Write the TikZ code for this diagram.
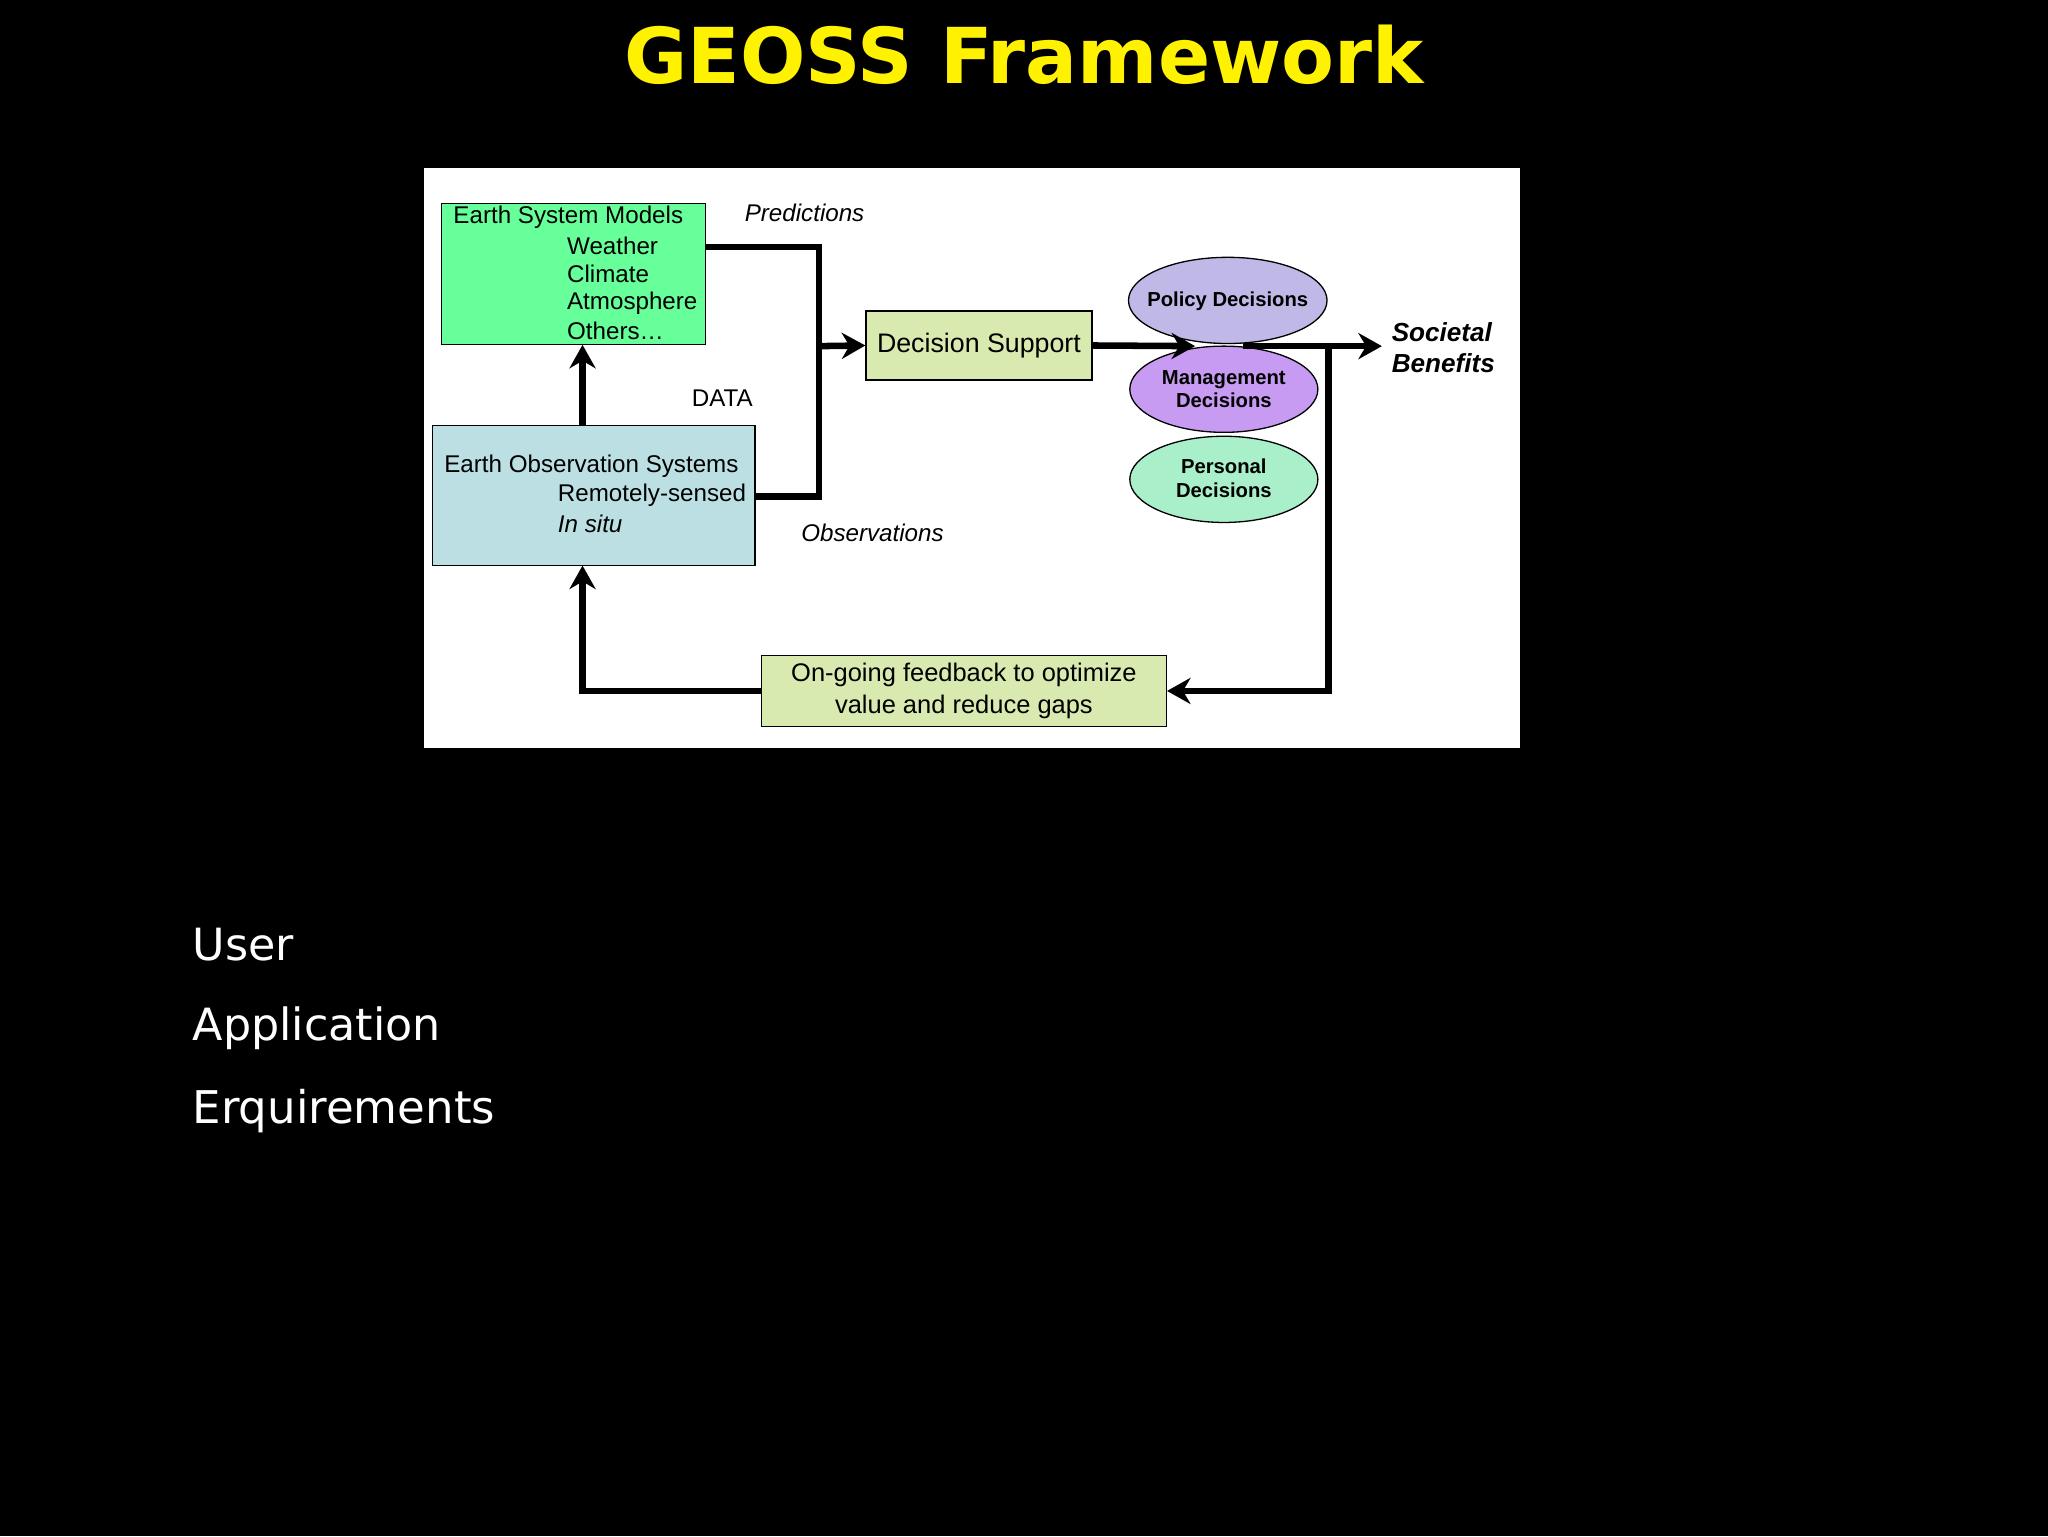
\documentclass[tikz,border=0pt]{standalone}
\usepackage{fontspec}
\setmainfont{Liberation Sans}
\newfontfamily\verd{DejaVu Sans}
\usetikzlibrary{arrows.meta}
\begin{document}
\begin{tikzpicture}[x=1pt,y=-1pt,
  box/.style={draw=black,line width=1pt,inner sep=0pt},
  lbl/.style={font=\fontsize{18.5}{20}\selectfont,anchor=west,inner sep=0pt},
  flow/.style={line width=5pt},
  arr/.style={line width=5pt,-{Stealth[length=18pt,width=20pt]}},
  etxt/.style={font=\bfseries\fontsize{15.5}{18}\selectfont,align=center}]
\fill[black] (0,0) rectangle (1568,1176);
\useasboundingbox (0,0) rectangle (1568,1176);
\node[text=yellow,font=\verd\bfseries\fontsize{59}{70}\selectfont] (title) at (784,42) {GEOSS Framework};
\fill[white] (325,129) rectangle (1164,573);
% boxes
\draw[box,fill={rgb,255:red,102;green,255;blue,153}] (338,156) rectangle (540,264);
\node[lbl] at (347,166) {Earth System Models};
\node[lbl] at (434,188) {Weather};
\node[lbl] at (434,210) {Climate};
\node[lbl] at (434,232) {Atmosphere};
\node[lbl] at (434,253) {Others\dots};
\draw[box,fill={rgb,255:red,187;green,223;blue,227}] (331,326) rectangle (578,433);
\node[lbl] at (340,357) {Earth Observation Systems};
\node[lbl] at (427,379) {Remotely-sensed};
\node[lbl,font=\itshape\fontsize{18.5}{20}\selectfont] at (427,401) {In situ};
\node[box,fill={rgb,255:red,217;green,234;blue,176},minimum width=173pt,minimum height=53pt,font=\fontsize{20.5}{22}\selectfont] (ds) at (749.5,264.5) {Decision Support};
\node[box,fill={rgb,255:red,217;green,234;blue,176},minimum width=310pt,minimum height=54pt,align=center,font=\fontsize{19.5}{24}\selectfont] (fb) at (738,529) {On-going feedback to optimize\\value and reduce gaps};
% ellipses
\draw[line width=1pt,fill={rgb,255:red,192;green,184;blue,230}] (940,230) ellipse [x radius=76,y radius=33];
\node[etxt] (pol) at (940,231) {Policy Decisions};
\draw[line width=1pt,fill={rgb,255:red,199;green,155;blue,242}] (937,298) ellipse [x radius=72,y radius=33];
\node[etxt] (man) at (937,298) {Management\\Decisions};
\draw[line width=1pt,fill={rgb,255:red,169;green,239;blue,201}] (937,367) ellipse [x radius=72,y radius=33];
\node[etxt] (per) at (937,366) {Personal\\Decisions};
% connectors
\draw[flow] (540,189) -- (627,189) -- (627,380) -- (578,380);
\draw[arr] (627,265) -- (ds.west);
\draw[arr] (ds.east) -- (915,265);
\draw[arr] (952,265) -- (1058,265);
\draw[arr] (1017,265) -- (1017,529) -- (fb.east);
\draw[arr] (fb.west) -- (446,529) -- (446,433);
\draw[arr] (446,326) -- (446,264);
% labels
\node[font=\itshape\fontsize{18.5}{20}\selectfont] at (616,163) {Predictions};
\node[font=\fontsize{18.5}{20}\selectfont] at (553,305) {DATA};
\node[font=\itshape\fontsize{18.5}{20}\selectfont] at (668,408) {Observations};
\node[font=\bfseries\itshape\fontsize{20}{24}\selectfont,align=left] at (1105,266) {Societal\\Benefits};
% bottom list
\node[text=white,anchor=west,font=\verd\fontsize{34}{40}\selectfont] at (144,723) {User};
\node[text=white,anchor=west,font=\verd\fontsize{34}{40}\selectfont] at (144,787) {Application};
\node[text=white,anchor=west,font=\verd\fontsize{34.5}{40}\selectfont] at (144,851) {Erquirements};
\end{tikzpicture}
\end{document}
